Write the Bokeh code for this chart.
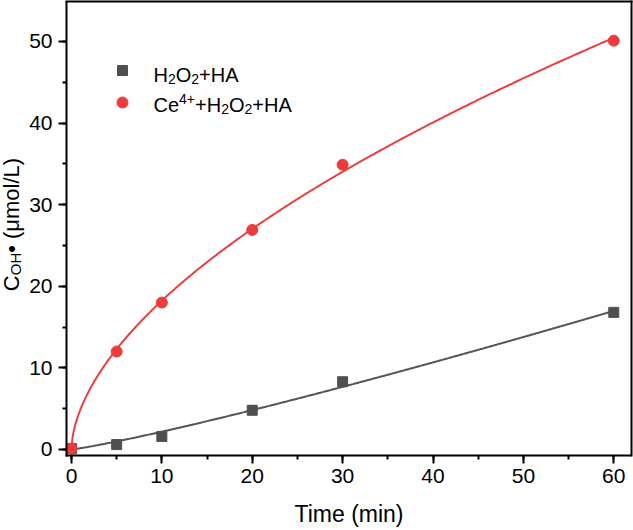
import numpy as np
from bokeh.plotting import figure
from bokeh.models import Range1d, SingleIntervalTicker, FixedTicker, Label, LinearAxis
from bokeh.embed import file_html
from bokeh.resources import INLINE

# ---------------- data ----------------
time_min = [0, 5, 10, 20, 30, 60]
h2o2_ha = [0.1, 0.6, 1.6, 4.8, 8.3, 16.8]
ce_h2o2_ha = [0.1, 12.0, 18.0, 26.9, 34.9, 50.1]

x_label = "Time (min)"
y_label_parts = [("C", ""), ("OH", "sub"), ("\u2022 (\u03bcmol/L)", "")]
legend_h2o2 = [("H", ""), ("2", "sub"), ("O", ""), ("2", "sub"), ("+HA", "")]
legend_ce = [("Ce", ""), ("4+", "sup"), ("+H", ""), ("2", "sub"), ("O", ""), ("2", "sub"), ("+HA", "")]

# ---------------- styling / layout ----------------
FONT = "Liberation Sans"
GRAY = "#4f4f4f"
GRAY_LINE = "#555555"
RED = "#f03b3b"
RED_LINE = "#e8403e"

W, H = 633, 530
SPINE_L = 66             # canvas x of the left spine
SPINE_B = 455            # canvas y of the bottom spine
BR, BT = 2, 1
FW, FH = W - BR, H - BT
XS, X1 = -0.55, 61.96    # data x at left spine / right edge
Y0, Y1 = -0.74, 54.9     # data y at bottom spine / top edge
XL = XS - SPINE_L * (X1 - XS) / (FW - SPINE_L)            # frame starts at canvas x = 0
YB = Y0 - (H - SPINE_B) * (Y1 - Y0) / (SPINE_B - BT)     # frame ends at canvas bottom
BASE_FIX = 8             # label baseline correction (px)

ADV = {'H': .722, 'O': .778, 'C': .722, 'e': .556, 'A': .667, '+': .584, '2': .556,
       '4': .556, ' ': .278, '\u2022': .35, '(': .333, ')': .333, '\u03bc': .576,
       'm': .833, 'o': .556, 'l': .222, '/': .278, 'L': .556}


def text_width(s, size):
    return sum(ADV.get(ch, .556) for ch in s) * size


def power_fit(x, y):
    x = np.asarray(x, float)
    y = np.asarray(y, float)
    best = None
    for b in np.linspace(0.2, 2.0, 1801):
        xb = x ** b
        a = (xb * y).sum() / (xb * xb).sum()
        sse = ((a * xb - y) ** 2).sum()
        if best is None or sse < best[0]:
            best = (sse, a, b)
    return best[1], best[2]


p = figure(width=W, height=H, x_range=Range1d(XL, X1), y_range=Range1d(YB, Y1),
           output_backend="svg", toolbar_location=None,
           min_border_left=0, min_border_right=BR, min_border_top=BT, min_border_bottom=0)
p.xgrid.visible = False
p.ygrid.visible = False
p.outline_line_color = None
p.background_fill_color = "white"
p.border_fill_color = "white"

for ax in (p.xaxis[0], p.yaxis[0]):
    ax.ticker = SingleIntervalTicker(interval=10, num_minor_ticks=2)
    ax.axis_line_width = 2
    ax.axis_line_color = "black"
    ax.axis_line_cap = "square"
    ax.major_tick_line_width = 2
    ax.minor_tick_line_width = 2
    ax.major_tick_out = 8
    ax.major_tick_in = 0
    ax.minor_tick_out = 4
    ax.minor_tick_in = 0
    ax.major_label_text_font = FONT
    ax.major_label_text_font_size = "21px"
    ax.major_label_text_color = "black"

p.xaxis.bounds = (XS, X1)
p.yaxis.bounds = (Y0, Y1)
p.xaxis.fixed_location = Y0
p.yaxis.fixed_location = XS
p.xaxis.major_label_standoff = 5
p.yaxis.major_label_standoff = 6

# top and right spines (plain axis lines, no ticks)
for side, bnds in (("above", (XS, X1)), ("right", (Y0, Y1))):
    spine = LinearAxis(ticker=FixedTicker(ticks=[]), bounds=bnds,
                       major_label_text_font_size="0px",
                       major_tick_line_color=None, minor_tick_line_color=None,
                       major_tick_out=0, minor_tick_out=0,
                       axis_line_width=2, axis_line_color="black", axis_line_cap="square")
    p.add_layout(spine, side)

# ---------------- fitted curves (least squares from the data) ----------------
xs = np.linspace(0, max(time_min), 500)
a1, b1 = power_fit(time_min, h2o2_ha)
a2, b2 = power_fit(time_min, ce_h2o2_ha)
p.line(xs, a1 * xs ** b1, line_color=GRAY_LINE, line_width=2)
p.line(xs, a2 * xs ** b2, line_color=RED_LINE, line_width=2)

p.scatter(time_min, h2o2_ha, marker="square", size=10, fill_color=GRAY, line_color=GRAY)
p.scatter(time_min, ce_h2o2_ha, marker="circle", size=11, fill_color=RED, line_color=RED)


def rich_text(parts, x, y, x_off, y_off, size, angle=0.0):
    cum = 0.0
    small = round(size * 0.7)
    for txt, kind in parts:
        fs = size if kind == "" else small
        shift = 0.0
        if kind == "sub":
            shift = -0.2 * size
        elif kind == "sup":
            shift = 0.3 * size
        if angle == 0.0:
            xo, yo = x_off + cum, y_off + shift + BASE_FIX
        else:
            xo, yo = x_off - shift, y_off + cum
        p.add_layout(Label(x=x, y=y, x_offset=xo, y_offset=yo, text=txt, angle=angle,
                           text_font=FONT, text_font_size=f"{fs}px", text_color="black",
                           text_align="left", text_baseline="alphabetic"))
        cum += text_width(txt, fs)
    return cum


# x axis title
p.add_layout(Label(x=(XS + X1) / 2, y=Y0, y_offset=-(521 - SPINE_B) + BASE_FIX, text=x_label,
                   text_font=FONT, text_font_size="23px", text_color="black",
                   text_align="center", text_baseline="alphabetic"))

# y axis title (rotated, with subscript)
ysz = 22
small_y = round(ysz * 0.7)
total = sum(text_width(t, ysz if k == "" else small_y) for t, k in y_label_parts)
rich_text(y_label_parts, XS, (Y0 + Y1) / 2, -(SPINE_L - 11), -total / 2 + 4, ysz, angle=np.pi / 2)

# legend
px_x = (X1 - XL) / FW
px_y = (Y1 - YB) / FH
leg_mx = XS + (122 - SPINE_L) * px_x
p.scatter([leg_mx], [Y1 - (70 - BT) * px_y], marker="square", size=10, fill_color=GRAY, line_color=GRAY)
p.scatter([leg_mx], [Y1 - (102 - BT) * px_y], marker="circle", size=11, fill_color=RED, line_color=RED)
rich_text(legend_h2o2, XS, Y1, 153 - SPINE_L, -(82 - BT), 20)
rich_text(legend_ce, XS, Y1, 153 - SPINE_L, -(112 - BT), 20)

open("out.html", "w").write(file_html(p, INLINE))
